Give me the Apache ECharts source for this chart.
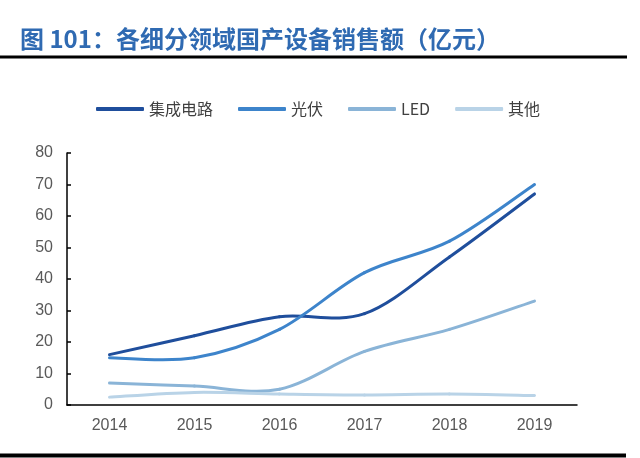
<!DOCTYPE html>
<html>
<head>
<meta charset="utf-8">
<script src="https://cdn.jsdelivr.net/npm/echarts@6/dist/echarts.min.js"></script>
<style>
  html, body { margin: 0; padding: 0; background: #fff; }
  #chart { width: 640px; height: 458px; }
</style>
</head>
<body>
<div id="chart"></div>
<script>
// 各细分领域国产设备销售额（亿元）
const years = ['2014', '2015', '2016', '2017', '2018', '2019'];
const seriesNames = ['集成电路', '光伏', 'LED', '其他'];
const icSales = [16, 22, 28, 29, 47, 67];
const pvSales = [15, 15, 24, 42, 52, 70];
const ledSales = [7, 6, 5, 17, 24, 33];
const otherSales = [2.5, 4, 3.5, 3.2, 3.5, 3];
const colors = ['#1f4e9c', '#3d84cb', '#8ab4d7', '#b9d3e7'];

const chart = echarts.init(document.getElementById('chart'));

// Excel-like smoothed line: one cubic segment per point pair,
// control points from the neighbours (Catmull-Rom, 1/6)
const makeLine = (name, values, color) => ({
  name: name,
  type: 'custom',
  data: values.map((v, i) => [i, v]),
  itemStyle: { color: color },
  renderItem: (params, api) => {
    const i = params.dataIndex;
    if (i >= values.length - 1) return null;
    const pt = (k) => {
      const j = Math.max(0, Math.min(values.length - 1, k));
      return api.coord([j, values[j]]);
    };
    const p0 = pt(i - 1), p1 = pt(i), p2 = pt(i + 1), p3 = pt(i + 2);
    return {
      type: 'bezierCurve',
      shape: {
        x1: p1[0], y1: p1[1],
        x2: p2[0], y2: p2[1],
        cpx1: p1[0] + (p2[0] - p0[0]) / 6,
        cpy1: p1[1] + (p2[1] - p0[1]) / 6,
        cpx2: p2[0] - (p3[0] - p1[0]) / 6,
        cpy2: p2[1] - (p3[1] - p1[1]) / 6
      },
      style: { stroke: color, lineWidth: 3, fill: null, lineCap: 'round' }
    };
  }
});

chart.setOption({
  animation: false,
  title: {
    text: '图 101：各细分领域国产设备销售额（亿元）',
    left: 15,
    top: 22,
    textStyle: {
      fontFamily: 'Noto Sans CJK SC',
      fontWeight: 'bold',
      fontSize: 24,
      color: '#2f6ab2'
    }
  },
  legend: {
    top: 96,
    left: 91,
    icon: 'roundRect',
    itemWidth: 48,
    itemHeight: 4,
    itemGap: 25,
    data: seriesNames,
    textStyle: {
      fontFamily: 'Noto Sans CJK SC',
      fontSize: 16,
      color: '#404040'
    }
  },
  grid: {
    left: 67,
    right: 63,
    top: 153,
    bottom: 53
  },
  xAxis: {
    type: 'category',
    data: years,
    boundaryGap: true,
    axisLine: { lineStyle: { color: '#000', width: 1.5 } },
    axisTick: { inside: true, length: 5, lineStyle: { color: '#000', width: 1.5 } },
    axisLabel: {
      margin: 13,
      fontFamily: 'Liberation Sans',
      fontSize: 16,
      color: '#595959'
    },
    splitLine: { show: false }
  },
  yAxis: {
    type: 'value',
    min: 0,
    max: 80,
    interval: 10,
    axisLine: { show: true, lineStyle: { color: '#000', width: 1.5 } },
    axisTick: { show: true, inside: true, length: 4, lineStyle: { color: '#000', width: 1.5 } },
    axisLabel: {
      margin: 14,
      fontFamily: 'Liberation Sans',
      fontSize: 16,
      color: '#595959'
    },
    splitLine: { show: false }
  },
  graphic: [
    {
      type: 'line',
      shape: { x1: 0, y1: 57, x2: 627, y2: 57 },
      style: { stroke: '#000', lineWidth: 3 }
    },
    {
      type: 'line',
      shape: { x1: 0, y1: 455.5, x2: 626, y2: 455.5 },
      style: { stroke: '#000', lineWidth: 4 }
    }
  ],
  series: [
    makeLine(seriesNames[0], icSales, colors[0]),
    makeLine(seriesNames[1], pvSales, colors[1]),
    makeLine(seriesNames[2], ledSales, colors[2]),
    makeLine(seriesNames[3], otherSales, colors[3])
  ]
});
</script>
</body>
</html>
